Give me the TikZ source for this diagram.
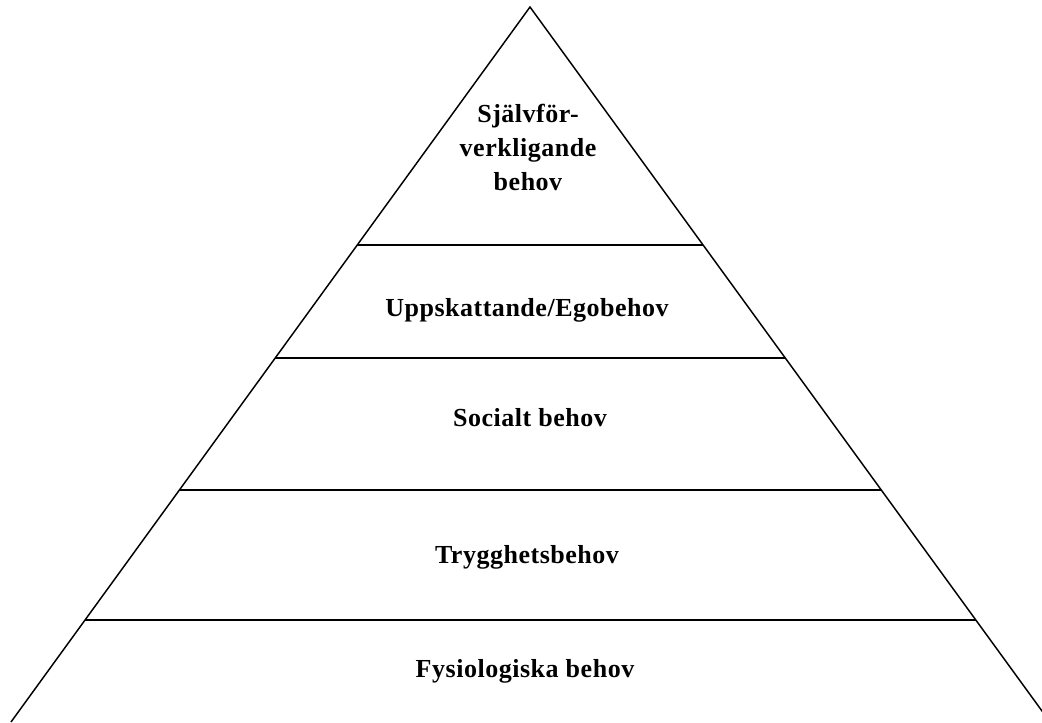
\documentclass[tikz,border=0pt]{standalone}
\usepackage{fontspec}
\setmainfont{Liberation Serif}[LetterSpace=2]
\usetikzlibrary{calc}
\begin{document}
\begin{tikzpicture}[x=0.75pt,y=-0.75pt,
  edge/.style={line width=1.1pt,black},
  tier/.style={line width=1pt,black},
  label/.style={font=\fontsize{19.5}{25.5}\selectfont\bfseries,align=center,inner sep=0pt}]
  \useasboundingbox (0,0) rectangle (1042,722);
  % corners of the pyramid
  \coordinate (apex) at (530,7);
  \coordinate (bl) at (11,722);
  \coordinate (br) at (1050,722);
  \begin{scope}
    \clip (0,0) rectangle (1042,722);
    \draw[edge] (bl) -- (apex) -- (br);
  \end{scope}
  % tier boundaries on both sides
  \foreach \n/\h in {a/245,b/358,c/490,d/620}{
    \coordinate (l\n) at ($(apex)!{(\h-7)/715}!(bl)$);
    \coordinate (r\n) at ($(apex)!{(\h-7)/715}!(br)$);
    \draw[tier] (l\n) -- (r\n);
  }
  % tier labels
  \node[label] (self) at (528,147) {Självför-\\verkligande\\behov};
  \node[label,anchor=base] (ego) at (527,316) {Uppskattande/Egobehov};
  \node[label,anchor=base] (social) at (530,426) {Socialt behov};
  \node[label,anchor=base] (safety) at (527,563) {Trygghetsbehov};
  \node[label,anchor=base] (phys) at (525,677) {Fysiologiska behov};
\end{tikzpicture}
\end{document}
